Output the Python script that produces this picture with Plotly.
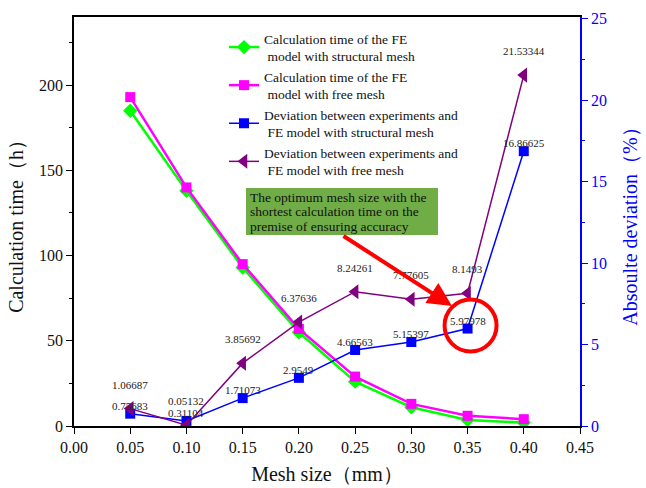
import plotly.graph_objects as go

mesh = [0.05, 0.10, 0.15, 0.20, 0.25, 0.30, 0.35, 0.40]
time_struct = [185, 138, 93, 55, 26, 11, 3.5, 2]
time_free = [193, 140, 95, 57, 29, 13, 6, 4]
dev_struct = [0.75683, 0.31104, 1.71073, 2.9549, 4.66563, 5.15397, 5.97978, 16.86625]
dev_free = [1.06687, 0.05132, 3.85692, 6.37636, 8.24261, 7.77605, 8.1493, 21.53344]
dev_struct_lbl = ["0.75683", "0.31104", "1.71073", "2.9549", "4.66563", "5.15397", "5.97978", "16.86625"]
dev_free_lbl = ["1.06687", "0.05132", "3.85692", "6.37636", "8.24261", "7.77605", "8.1493", "21.53344"]

SERIF = "Liberation Serif, Times New Roman, serif"

fig = go.Figure()
fig.add_trace(go.Scatter(
    x=mesh, y=time_struct, mode="lines+markers",
    name="Calculation time of the FE<br> model with structural mesh",
    line=dict(color="#00FF00", width=2.5),
    marker=dict(symbol="diamond", size=11, color="#00FF00"),
))
fig.add_trace(go.Scatter(
    x=mesh, y=time_free, mode="lines+markers",
    name="Calculation time of the FE<br> model with free mesh",
    line=dict(color="#FF00FF", width=2.5),
    marker=dict(symbol="square", size=10, color="#FF00FF"),
))
fig.add_trace(go.Scatter(
    x=mesh, y=dev_struct, mode="lines+markers", yaxis="y2",
    name="Deviation between experiments and<br> FE model with structural mesh",
    line=dict(color="#0000FF", width=1.5),
    marker=dict(symbol="square", size=10, color="#0000FF"),
))
fig.add_trace(go.Scatter(
    x=mesh, y=dev_free, mode="lines+markers", yaxis="y2",
    name="Deviation between experiments and<br> FE model with free mesh",
    line=dict(color="#800080", width=1.5),
    marker=dict(symbol="triangle-left", size=13, color="#800080"),
))

annotations = []
for xv, yv, t in zip(mesh, dev_free, dev_free_lbl):
    annotations.append(dict(x=xv, y=yv, xref="x", yref="y2", text=t, showarrow=False,
                            yshift=24, font=dict(family=SERIF, size=11, color="#222")))
for xv, yv, t in zip(mesh, dev_struct, dev_struct_lbl):
    annotations.append(dict(x=xv, y=yv, xref="x", yref="y2", text=t, showarrow=False,
                            yshift=8, font=dict(family=SERIF, size=11, color="#222")))

L, T, PW, PH = 74, 17, 506, 409
def px(xp):
    return (xp - L) / PW
def py(yp):
    return (T + PH - yp) / PH

note = ["The optimum mesh size with the", "shortest calculation time on the", "premise of ensuring accuracy"]
for i, line in enumerate(note):
    annotations.append(dict(x=px(248), y=py(197 + 14.5 * i), xref="paper", yref="paper",
                            xanchor="left", yanchor="middle", text=line, showarrow=False,
                            font=dict(family=SERIF, size=13.5, color="#111")))

annotations.append(dict(x=px(452), y=py(306), xref="paper", yref="paper", text="",
                        showarrow=True, ax=-110, ay=-71, arrowhead=2, arrowsize=1.2,
                        arrowwidth=4, arrowcolor="#FF0000"))

shapes = [
    dict(type="rect", xref="paper", yref="paper", x0=px(246), x1=px(438), y0=py(235), y1=py(188),
         fillcolor="#70AD47", line=dict(width=0), layer="below"),
    dict(type="circle", xref="x", yref="y2", xsizemode="pixel", ysizemode="pixel",
         xanchor=0.35, yanchor=5.97978, x0=-23, x1=29, y0=-23, y1=29,
         line=dict(color="#FF0000", width=4)),
]

fig.update_layout(
    width=646, height=488,
    margin=dict(l=L, r=66, t=T, b=62),
    paper_bgcolor="white", plot_bgcolor="white",
    font=dict(family=SERIF, size=16, color="#111"),
    showlegend=True,
    legend=dict(x=px(224), y=py(23), xanchor="left", yanchor="top",
                bgcolor="rgba(0,0,0,0)", font=dict(family=SERIF, size=13.5, color="#111"),
                itemwidth=30, tracegroupgap=0),
    xaxis=dict(range=[0, 0.45], dtick=0.05, tick0=0, tickformat=".2f", automargin=False,
               showline=True, linecolor="black", linewidth=1.5, mirror=True,
               ticks="outside", ticklen=6, tickcolor="black", showgrid=False, zeroline=False,
               title=dict(text="Mesh size（mm）", font=dict(size=20), standoff=12),
               tickfont=dict(size=16)),
    yaxis=dict(range=[0, 240], dtick=50, tick0=0, automargin=False,
               showline=True, linecolor="black", linewidth=1.5,
               ticks="outside", ticklen=6, tickcolor="black", showgrid=False, zeroline=False,
               minor=dict(dtick=25, ticks="outside", ticklen=3, tickcolor="black"),
               title=dict(text="Calculation time（h）", font=dict(size=20), standoff=10),
               tickfont=dict(size=16)),
    yaxis2=dict(range=[0, 25.1], dtick=5, tick0=0, overlaying="y", side="right", automargin=False,
                showline=True, linecolor="#0000FF", linewidth=1.5,
                ticks="outside", ticklen=6, tickcolor="#0000FF", showgrid=False, zeroline=False,
                minor=dict(dtick=2.5, ticks="outside", ticklen=3, tickcolor="#0000FF"),
                title=dict(text="Absoulte deviation（%）", font=dict(size=20, color="#0000FF"), standoff=17),
                tickfont=dict(size=16, color="#0000FF")),
    annotations=annotations,
    shapes=shapes,
)

fig.write_html("out.html", config={"displayModeBar": False},
               post_script="document.body.style.margin='0px';document.body.style.padding='0px';")
